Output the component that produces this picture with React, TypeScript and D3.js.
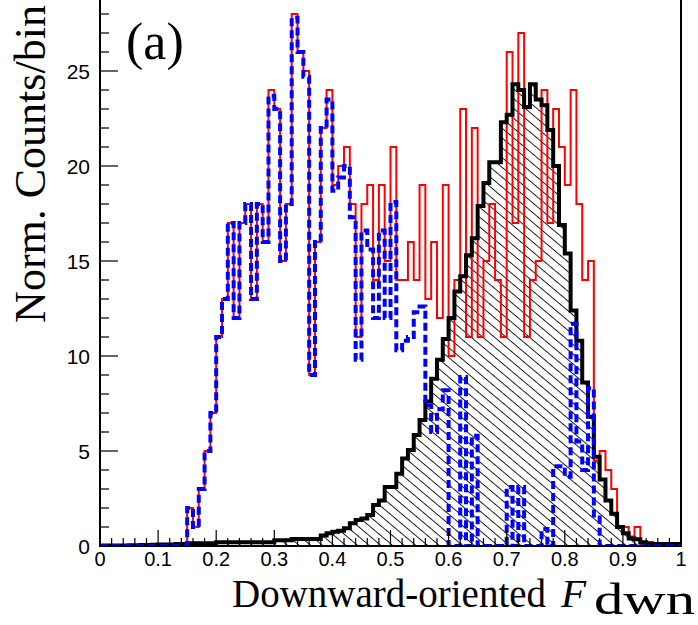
import React from 'react';
import * as d3 from 'd3';

const NBINS = 100;
const redCounts = [
  0,0,0,0,0,0,0,0,0,0, 0,0,0,0,0,2,1,3,5,7,
  11,13,17,12,17,18,13,18,16,24, 23,15,18,28,26,25,9,16,22,24,
  19,20,21,18,11,18,19,14,19,15, 21,14,14,16,14,19,13,16,12,19,
  10,14,23,11,22,11,15,18,14,11, 26,17,27,11,14,15,24,17,23,21,
  19,24,18,14,15,4.5,5,4,3,1, 1,0.5,1,0,0,0,0,0,0,0,
];
const blueCounts = [
  0,0,0,0,0,0,0,0,0,0, 0,0,0,0,0,2,1,3,5,7,
  11,13,17,12,17,18,13,18,16,23.7, 23,15,18,27.8,26,24.7,9,16,22,23.5,
  18.7,19.4,20,17.3,9.8,16.6,15.6,12,16.6,12, 18.1,10.3,10.8,11,12.3,12.6,7.4,6,7.2,8.2,
  0,0,8.9,0,5.8,0,0,0,0,0, 3.1,0,3.1,0,0,0,0.9,0,4.2,4.2,
  3.65,11.7,5.5,4,8.3,1.5,0,0,0,0, 0,0,0,0,0,0,0,0,0,0,
];
const blackCounts = [
  0.03,0.03,0.03,0.03,0.03,0.04,0.04,0.05,0.05,0.06, 0.08,0.08,0.08,0.1,0.1,0.14,0.14,0.14,0.14,0.14,
  0.2,0.2,0.2,0.2,0.2,0.2,0.2,0.2,0.2,0.2, 0.3,0.3,0.3,0.37,0.37,0.37,0.37,0.37,0.55,0.67,
  0.75,0.8,0.93,1.2,1.37,1.45,1.63,2.16,2.4,3.1, 3.1,3.8,4.6,5.05,5.84,6.63,7.6,8.8,9.8,10.9,
  12.0,13.4,14.2,15.3,16.2,17.9,19.1,20.2,20.2,22.3, 22.7,24.3,24.0,23.1,24.3,23.5,23.2,21.9,20.0,16.9,
  15.4,12.4,10.8,8.6,6.8,4.7,3.5,2.4,1.7,1.0, 0.67,0.4,0.35,0.2,0.15,0.1,0.1,0.1,0.1,0.1,
];
const xTickLabels = ['0', '0.1', '0.2', '0.3', '0.4', '0.5', '0.6', '0.7', '0.8', '0.9', '1'];
const yTickLabels = ['0', '5', '10', '15', '20', '25'];

const W = 698;
const H = 625;
const x = d3.scaleLinear().domain([0, 1]).range([100, 681]);
const y = d3.scaleLinear().domain([0, 25]).range([546, 71]);
const yTop = -4;

function stepPath(counts: number[]): string {
  const pts: [number, number][] = [[0, 0]];
  counts.forEach((c, i) => {
    pts.push([i / NBINS, c]);
    pts.push([(i + 1) / NBINS, c]);
  });
  pts.push([1, 0]);
  const line = d3.line<[number, number]>().x(d => x(d[0])).y(d => y(d[1]));
  return line(pts) || '';
}

export default function App() {
  const xMinor = d3.range(0, 51).map(i => i * 0.02);
  const yMinor = d3.range(0, 30).map(i => i);
  const serif = '"Liberation Serif", "Times New Roman", serif';
  const sans = '"Liberation Sans", Arial, Helvetica, sans-serif';
  return (
    <svg width={W} height={H} style={{ position: 'fixed', left: 0, top: 0, background: '#fff' }}>
      <defs>
        <pattern id="hatch" patternUnits="userSpaceOnUse" width={20} height={7.5} patternTransform="rotate(40)">
          <line x1={0} y1={0.5} x2={20} y2={0.5} stroke="#000" strokeWidth={0.9} />
        </pattern>
        <clipPath id="plot">
          <rect x={100} y={yTop} width={581} height={546 - yTop} />
        </clipPath>
      </defs>
      <rect x={0} y={0} width={W} height={H} fill="#fff" />
      <g clipPath="url(#plot)">
        <path d={stepPath(blackCounts)} fill="url(#hatch)" stroke="none" />
        <path d={stepPath(redCounts)} fill="none" stroke="#ff0000" strokeWidth={2} />
        <path d={stepPath(blackCounts)} fill="none" stroke="#000" strokeWidth={4} />
        <path d={stepPath(blueCounts)} fill="none" stroke="#0000ff" strokeWidth={4} strokeDasharray="8 4" />
      </g>
      {/* frame */}
      <line x1={100} y1={yTop} x2={100} y2={546} stroke="#000" strokeWidth={2} />
      <line x1={99} y1={546} x2={681} y2={546} stroke="#000" strokeWidth={2} />
      <line x1={681} y1={yTop} x2={681} y2={547} stroke="#000" strokeWidth={2} />
      {/* ticks */}
      {xMinor.map((v, i) => (
        <line key={'xt' + i} x1={x(v)} x2={x(v)} y1={546} y2={i % 5 === 0 ? 530 : 538} stroke="#000" strokeWidth={1.2} />
      ))}
      {yMinor.map((v, i) => (
        <line key={'yt' + i} x1={100} x2={i % 5 === 0 ? 118 : 109} y1={y(v)} y2={y(v)} stroke="#000" strokeWidth={1.2} />
      ))}
      {xTickLabels.map((t, i) => (
        <text key={'xl' + i} x={x(i / 10)} y={566} fontFamily={sans} fontSize={20} textAnchor="middle">{t}</text>
      ))}
      {yTickLabels.map((t, i) => (
        <text key={'yl' + i} x={90} y={y(i * 5) + 8} fontFamily={sans} fontSize={21} textAnchor="end">{t}</text>
      ))}
      <text x={126} y={59} fontFamily={serif} fontSize={52}>(a)</text>
      <text transform="translate(45,164) rotate(-90)" fontFamily={serif} fontSize={44} textAnchor="middle">Norm. Counts/bin</text>
      <text x={232} y={607} fontFamily={serif} fontSize={39}>Downward-oriented</text>
      <text x={561} y={607} fontFamily={serif} fontSize={41} fontStyle="italic">F</text>
      <text x={594} y={614} fontFamily={serif} fontSize={44} textLength={101} lengthAdjust="spacingAndGlyphs">dwn</text>
    </svg>
  );
}
